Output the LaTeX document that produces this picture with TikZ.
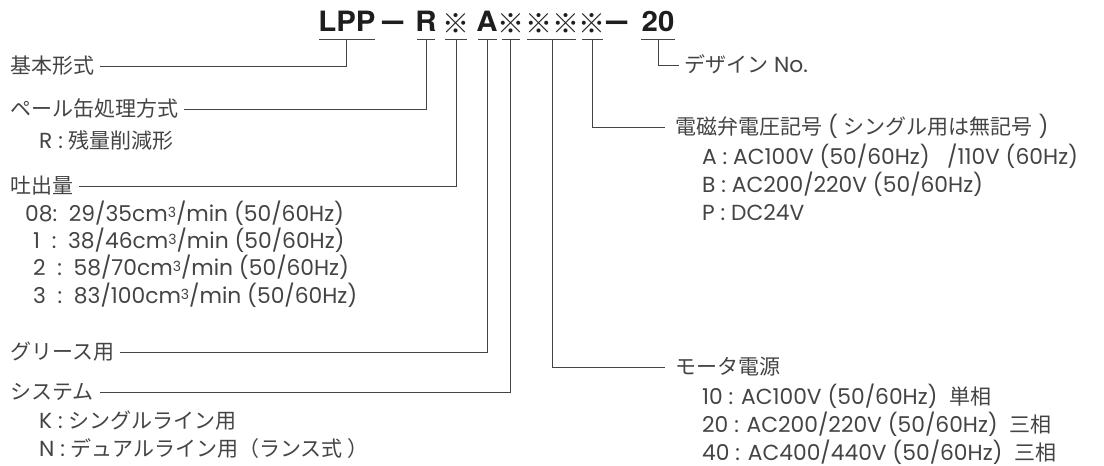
\documentclass[tikz,border=0pt]{standalone}
\usepackage{fontspec}
\setmainfont{Poppins}
\newfontfamily\titlefont{TeX Gyre Heros}
\newfontfamily\cjkfont{Noto Sans CJK JP}
\newcommand{\jp}[1]{{\cjkfont\fontsize{21}{21}\selectfont #1}}
\definecolor{ink}{HTML}{444444}
\definecolor{tink}{HTML}{1E1E1E}
\definecolor{wire}{HTML}{444444}
\newcommand{\cubic}{\raisebox{4pt}{\fontsize{14}{14}\selectfont 3}}
\tikzset{
  body/.style={font=\fontsize{21.8}{23}\selectfont, text=ink, inner sep=0pt, text height=16pt, text depth=1pt},
  lab/.style={body, inner xsep=6pt},
  rlab/.style={body, inner xsep=10pt},
  item/.style={body, anchor=west},
  ttl/.style={font=\titlefont\bfseries\fontsize{28}{28}\selectfont, text=tink, inner sep=0pt, anchor=base},
  refmark/.style={font=\cjkfont\fontsize{27}{27}\selectfont, text=tink, inner sep=0pt, anchor=base},
  conn/.style={draw=wire, line width=1pt},
  uline/.style={draw=wire, line width=1pt},
}
\begin{document}
\begin{tikzpicture}[x=1pt,y=-1pt]
\useasboundingbox (0,0) rectangle (1104,466);
% title
\node[ttl, xscale=1.05] (tLPP) at (347,31) {LPP};
\node[ttl, xscale=1.35, yscale=1.2] (tD1) at (393,31) {–};
\node[ttl, xscale=1.05] (tR) at (426,31) {R};
\node[refmark] (tM1) at (456,33) {※};
\node[ttl, xscale=1.05] (tA) at (487,31) {A};
\node[refmark] (tM2) at (511,33) {※};
\node[refmark] (tM3) at (552,33) {※※};
\node[refmark] (tM4) at (592,33) {※};
\node[ttl, xscale=1.35, yscale=1.2] (tD2) at (617,31) {–};
\node[ttl, xscale=1.05] (t20) at (658,31) {20};
% underlines
\draw[uline] (319,39) -- (375,39);
\draw[uline] (417,39) -- (435,39);
\draw[uline] (445,39) -- (467,39);
\draw[uline] (478,39) -- (497,39);
\draw[uline] (502,39) -- (520,39);
\draw[uline] (527,39) -- (576,39);
\draw[uline] (582,39) -- (603,39);
\draw[uline] (641,39) -- (675,39);
\coordinate (cLPP) at (346,39);
\coordinate (cR) at (426,39);
\coordinate (cM1) at (456,39);
\coordinate (cA) at (487,39);
\coordinate (cM2) at (510,39);
\coordinate (cM3) at (552,39);
\coordinate (cM4) at (592,39);
\coordinate (c20) at (658,39);
% left labels
\node[lab, anchor=west] (kihon) at (4,66) {\jp{基本形式}};
\node[lab, anchor=west] (pail) at (4,109) {\jp{ペール缶処理方式}};
\node[item] (pailR) at (39,141) {R : \jp{残量削減形}};
\node[lab, anchor=west] (tode) at (4,186) {\jp{吐出量}};
\node[item] (q08) at (25,214) {08:\ \ 29/35cm\cubic/min (50/60Hz)};
\node[item] (q1) at (33,241) {1\ \ :\ \ 38/46cm\cubic/min (50/60Hz)};
\node[item] (q2) at (33,268) {2\ \ :\ \ 58/70cm\cubic/min (50/60Hz)};
\node[item] (q3) at (33,296) {3\ \ :\ \ 83/100cm\cubic/min (50/60Hz)};
\node[lab, anchor=west] (grease) at (4,352) {\jp{グリース用}};
\node[lab, anchor=west] (sys) at (4,392) {\jp{システム}};
\node[item] (sysK) at (39,421) {K : \jp{シングルライン用}};
\node[item] (sysN) at (39,449) {N : \jp{デュアルライン用（ランス式 ）}};
% right labels
\node[body, inner xsep=5pt, anchor=west] (design) at (679,65) {\jp{デザイン} No.};
\node[rlab, anchor=west] (denji) at (665,127) {\jp{電磁弁電圧記号} ( \jp{シングル用は無記号} )};
\node[item] (vA) at (702,157) {A : AC100V (50/60Hz)\ \ \ /110V (60Hz)};
\node[item] (vB) at (702,185) {B : AC200/220V (50/60Hz)};
\node[item] (vP) at (702,213) {P : DC24V};
\node[rlab, anchor=west] (motor) at (665,367) {\jp{モータ電源}};
\node[item] (m10) at (702,397) {10 : AC100V (50/60Hz)\ \ \jp{単相}};
\node[item] (m20) at (702,425) {20 : AC200/220V (50/60Hz)\ \ \jp{三相}};
\node[item] (m40) at (702,453) {40 : AC400/440V (50/60Hz)\ \ \jp{三相}};
% connectors
\draw[conn] (cLPP) |- (kihon.east);
\draw[conn] (cR) |- (pail.east);
\draw[conn] (cM1) |- (tode.east);
\draw[conn] (cA) |- (grease.east);
\draw[conn] (cM2) |- (sys.east);
\draw[conn] (cM3) |- (motor.west);
\draw[conn] (cM4) |- (denji.west);
\draw[conn] (c20) |- (design.west);
\end{tikzpicture}
\end{document}
